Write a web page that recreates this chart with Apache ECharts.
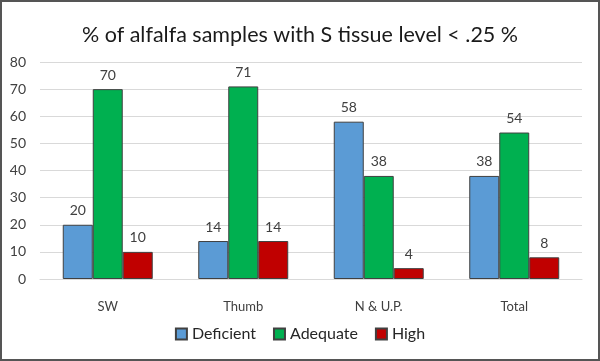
<!DOCTYPE html>
<html><head><meta charset="utf-8">
<script src="https://cdn.jsdelivr.net/npm/echarts@6/dist/echarts.min.js"></script>
<style>
html,body{margin:0;padding:0;background:#fff;}
#c{position:absolute;left:0;top:0;width:600px;height:361px;box-sizing:border-box;border:2px solid #555;}
</style></head>
<body><div id="c"></div>
<script>
const categories = ['SW', 'Thumb', 'N & U.P.', 'Total'];
const deficient = [20, 14, 58, 38];
const adequate = [70, 71, 38, 54];
const high = [10, 14, 4, 8];
const seriesNames = ['Deficient', 'Adequate', 'High'];
const colors = ['#5B9BD5', '#00B050', '#C00000'];

const font = 'Lato, "Open Sans", sans-serif';
const chart = echarts.init(document.getElementById('c'), null, {renderer: 'canvas'});
function mk(name, data, color) {
  return {
    name: name, type: 'bar', data: data, barGap: '0%', barCategoryGap: '33.6%',
    itemStyle: {color: color, borderColor: '#404040', borderWidth: 1},
    label: {show: true, position: 'top', distance: 7, color: '#404040', fontSize: 14, fontFamily: font},
    emphasis: {disabled: true}
  };
}
chart.setOption({
  animation: false,
  title: {text: '% of alfalfa samples with S tissue level < .25 %', left: 'center', top: 17,
    textStyle: {fontSize: 21.5, fontWeight: 'normal', color: '#1a1a1a', fontFamily: font}},
  legend: {data: seriesNames, bottom: 12, left: 'center', itemWidth: 11, itemHeight: 11, itemGap: 17,
    icon: 'rect',
    textStyle: {fontSize: 16, color: '#262626', fontFamily: font}},
  grid: {left: 38, right: 16, top: 60, bottom: 80, containLabel: false},
  xAxis: {type: 'category', data: categories,
    axisLine: {lineStyle: {color: '#d9d9d9'}}, axisTick: {show: false},
    axisLabel: {color: '#404040', fontSize: 13, fontFamily: font, margin: 21}},
  yAxis: {type: 'value', min: 0, max: 80, interval: 10,
    axisLine: {show: false}, axisTick: {show: false},
    splitLine: {lineStyle: {color: '#d9d9d9'}},
    axisLabel: {color: '#404040', fontSize: 14, fontFamily: font, margin: 14}},
  series: [mk(seriesNames[0], deficient, colors[0]), mk(seriesNames[1], adequate, colors[1]), mk(seriesNames[2], high, colors[2])]
});
</script></body></html>
